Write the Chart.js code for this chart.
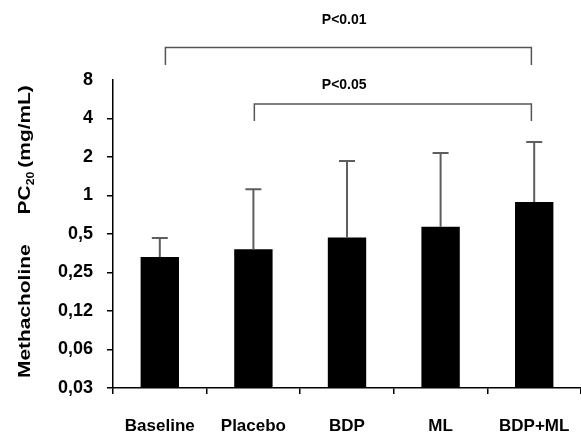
<!DOCTYPE html>
<html>
<head>
<meta charset="utf-8">
<script src="https://cdn.jsdelivr.net/npm/chart.js@4.4.0/dist/chart.umd.min.js"></script>
<style>
  html, body { margin: 0; padding: 0; background: #fff; }
  #wrap { width: 581px; height: 433px; position: relative; }
</style>
</head>
<body>
<div id="wrap"><canvas id="c" width="581" height="433"></canvas></div>
<script>
// ---- data ----
const categories = ['Baseline', 'Placebo', 'BDP', 'ML', 'BDP+ML'];
const pc20Values = [0.33, 0.38, 0.47, 0.57, 0.89];      // geometric means (mg/mL)
const pc20Upper  = [0.465, 1.12, 1.86, 2.15, 2.62];     // upper end of error bar
const tickValues = [1/32, 1/16, 1/8, 1/4, 1/2, 1, 2, 4, 8];
const tickLabels = ['0,03', '0,06', '0,12', '0,25', '0,5', '1', '2', '4', '8'];
// significance brackets: category-index span, value levels
const bracketLabels = ['P<0.01', 'P<0.05'];
const bracketFrom   = [0.06, 1.01];
const bracketTo     = [3.97, 3.97];
const bracketTop    = [14.36, 5.19];
const bracketLegEnd = [10.48, 3.82];
const bracketTextX  = [1.97, 1.97];
const bracketTextY  = [23.6, 7.31];

const FONT = "'Liberation Sans', Arial, sans-serif";

const errorBarPlugin = {
  id: 'errorBars',
  afterDatasetsDraw(chart) {
    const ctx = chart.ctx;
    const y = chart.scales.y;
    const meta = chart.getDatasetMeta(0);
    ctx.save();
    ctx.strokeStyle = '#5e5e5e';
    ctx.lineWidth = 2;
    meta.data.forEach((bar, i) => {
      const yTop = y.getPixelForValue(pc20Upper[i]);
      ctx.beginPath();
      ctx.moveTo(bar.x, bar.y);
      ctx.lineTo(bar.x, yTop);
      ctx.moveTo(bar.x - 8, yTop);
      ctx.lineTo(bar.x + 8, yTop);
      ctx.stroke();
    });
    ctx.restore();
  }
};

const bracketPlugin = {
  id: 'brackets',
  afterDraw(chart) {
    const ctx = chart.ctx;
    const xs = chart.scales.x, ys = chart.scales.y;
    ctx.save();
    ctx.strokeStyle = '#555';
    ctx.lineWidth = 1.5;
    ctx.fillStyle = '#000';
    ctx.font = 'bold 14px ' + FONT;
    ctx.textAlign = 'center';
    ctx.textBaseline = 'middle';
    bracketLabels.forEach((lab, i) => {
      const x1 = xs.getPixelForValue(bracketFrom[i]);
      const x2 = xs.getPixelForValue(bracketTo[i]);
      const yt = ys.getPixelForValue(bracketTop[i]);
      const yl = ys.getPixelForValue(bracketLegEnd[i]);
      ctx.beginPath();
      ctx.moveTo(x1, yl);
      ctx.lineTo(x1, yt);
      ctx.lineTo(x2, yt);
      ctx.lineTo(x2, yl);
      ctx.stroke();
      ctx.fillText(lab, xs.getPixelForValue(bracketTextX[i]), ys.getPixelForValue(bracketTextY[i]));
    });
    ctx.restore();
  }
};

const yTitlePlugin = {
  id: 'yTitle',
  afterDraw(chart) {
    const ctx = chart.ctx;
    ctx.save();
    ctx.translate(30, 378);
    ctx.rotate(-Math.PI / 2);
    ctx.scale(1.23, 1);
    ctx.fillStyle = '#000';
    ctx.textAlign = 'left';
    ctx.textBaseline = 'alphabetic';
    const big = 'bold 17px ' + FONT;
    const small = 'bold 10px ' + FONT;
    let x = 0;
    ctx.font = big;
    ctx.fillText('Methacholine', x, 0);
    x += ctx.measureText('Methacholine').width + 30 / 1.23;
    ctx.fillText('PC', x, 0);
    x += ctx.measureText('PC').width;
    ctx.font = small;
    ctx.fillText('20', x, 3.5);
    x += ctx.measureText('20').width + 4 / 1.23;
    ctx.font = big;
    ctx.fillText('(mg/mL)', x, 0);
    ctx.restore();
  }
};

new Chart(document.getElementById('c'), {
  type: 'bar',
  data: {
    labels: categories,
    datasets: [{
      data: pc20Values,
      backgroundColor: '#000',
      borderColor: '#000',
      borderWidth: 0,
      barPercentage: 0.41,
      categoryPercentage: 1
    }]
  },
  options: {
    responsive: false,
    animation: false,
    devicePixelRatio: 1,
    layout: { padding: { top: 80, right: 0, left: 0, bottom: 0 } },
    plugins: { legend: { display: false }, tooltip: { enabled: false } },
    scales: {
      x: {
        type: 'category',
        grid: { offset: true, drawOnChartArea: false, drawTicks: true, tickLength: 6, color: '#000', lineWidth: 1.5 },
        border: { display: true, color: '#000', width: 1.5 },
        ticks: { color: '#000', font: { family: FONT, size: 17, weight: 'bold', lineHeight: 2.6 }, padding: 10, maxRotation: 0, autoSkip: false },
        afterFit(scale) { scale.height = 45; }
      },
      y: {
        type: 'logarithmic',
        min: tickValues[0],
        max: tickValues[tickValues.length - 1],
        afterBuildTicks(scale) { scale.ticks = tickValues.map(v => ({ value: v })); },
        grid: {
          drawOnChartArea: false, drawTicks: true, tickLength: 6, lineWidth: 1.5,
          color: (c) => (c.index === tickValues.length - 1 ? 'rgba(0,0,0,0)' : '#000')
        },
        border: { display: true, color: '#000', width: 1.5 },
        ticks: {
          color: '#000', font: { family: FONT, size: 18, weight: 'bold' }, padding: 14, autoSkip: false,
          callback: (v, i) => tickLabels[i]
        },
        afterFit(scale) { scale.width = 113; }
      }
    }
  },
  plugins: [errorBarPlugin, bracketPlugin, yTitlePlugin]
});
</script>
</body>
</html>
